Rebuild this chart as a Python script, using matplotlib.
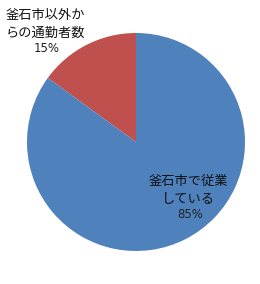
import matplotlib.pyplot as plt

plt.rcParams['font.family'] = ['Noto Sans CJK JP', 'DejaVu Sans']

# data
labels = ["釜石市以外からの通勤者数", "釜石市で従業している"]
label_lines = [["釜石市以外か", "らの通勤者数"], ["釜石市で従業", "している"]]
values = [15, 85]
colors = ["#C0504D", "#4F81BD"]

W, H = 260, 284
cx, cy, r = 136, 142, 109  # pie centre / radius in pixels (from top-left)

fig = plt.figure(figsize=(W / 100, H / 100), dpi=100)
ax = fig.add_axes([(cx - r) / W, (H - cy - r) / H, 2 * r / W, 2 * r / H])
ax.pie(values, colors=colors, startangle=90, counterclock=True,
       wedgeprops=dict(linewidth=0))
ax.set_xlim(-1, 1)
ax.set_ylim(-1, 1)
ax.set_aspect('equal')
ax.axis('off')


def px(x, y):
    return (x - cx) / r, (cy - y) / r


# label positions in pixels: (centre x, y of each line)
label_pos = [(45, [16, 33, 49]), (188, [181, 199, 214])]

for i, (lines, (x0, ys)) in enumerate(zip(label_lines, label_pos)):
    for line, y in zip(lines, ys):
        ax.text(*px(x0, y), line, ha='center', va='center', fontsize=9.5,
                color='#111111')
    ax.text(*px(x0 + 2, ys[-1]), f"{values[i]}%", ha='center', va='center',
            fontsize=8.5, color='#222222', family='DejaVu Sans')

fig.savefig("out.png", dpi=100)
